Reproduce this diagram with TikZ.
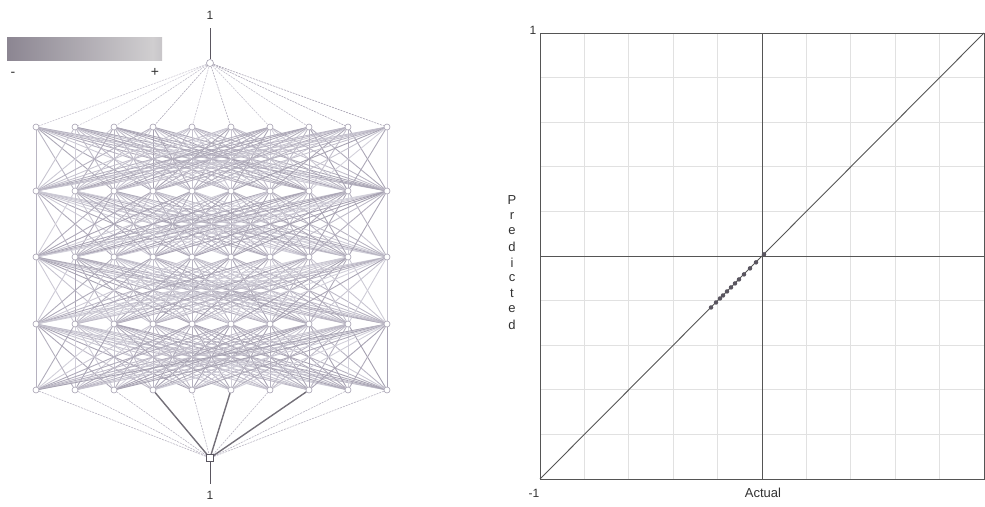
\documentclass[tikz,border=0pt]{standalone}
\usepackage{fontspec}
\setmainfont{Liberation Sans}
\usetikzlibrary{backgrounds}
\definecolor{netA}{RGB}{165,160,176}
\definecolor{netB}{RGB}{212,210,220}
\definecolor{netDark}{RGB}{90,86,96}
\definecolor{gridc}{RGB}{225,225,225}
\definecolor{axisc}{RGB}{85,85,85}
\definecolor{txt}{RGB}{50,50,50}
\definecolor{barA}{RGB}{92,84,98}
\definecolor{barB}{RGB}{140,134,146}
\definecolor{barC}{RGB}{208,206,208}
\definecolor{barD}{RGB}{128,124,134}
\pgfdeclarehorizontalshading{cbar}{100bp}{color(0bp)=(barA); color(25bp)=(barB); color(72bp)=(barC); color(100bp)=(barD)}
\tikzset{
  nd/.style={circle,draw=netA,fill=white,inner sep=0pt,minimum size=6pt,line width=0.6pt},
  outnd/.style={rectangle,draw=netDark,fill=white,inner sep=0pt,minimum size=7pt,line width=0.7pt},
  edge/.style={line width=0.9pt},
  gridl/.style={draw=gridc,line width=0.7pt},
  axisl/.style={draw=axisc,line width=0.8pt},
  lbl/.style={text=txt,font=\fontsize{12}{12}\selectfont,inner sep=0pt},
  dot/.style={circle,fill=netDark,inner sep=0pt,minimum size=4.5pt}
}
\begin{document}
\begin{tikzpicture}[x=1pt,y=-1pt]
\useasboundingbox (0,0) rectangle (985,506);
\pgfmathsetseed{7}
% ---------- colour bar ----------
\node[inner sep=0pt,minimum width=155pt,minimum height=23pt,shading=cbar,anchor=north west] (bar) at (7,37) {};
\node[lbl,font=\fontsize{14}{14}\selectfont] (minus) at (13,74) {-};
\node[lbl,font=\fontsize{14}{14}\selectfont] (plus) at (155,72) {+};
% ---------- network nodes ----------
\node[nd,minimum size=7pt] (top) at (210,63) {};
\coordinate (topend) at (210,28);
\node[lbl] (toplab) at (210,15) {1};
\foreach \k/\y in {1/127,2/191,3/257,4/324,5/390}{
  \foreach \i in {0,...,9}{
    \pgfmathsetmacro{\xx}{36+39*\i}
    \node[nd] (n\k-\i) at (\xx,\y) {};
  }
}
\node[outnd] (bot) at (210,458) {};
\coordinate (botend) at (210,484);
\node[lbl] (botlab) at (210,495) {1};
\begin{pgfonlayer}{background}
  \draw[axisl,draw=netDark,line width=1pt] (top) -- (topend);
  \draw[axisl,draw=netDark,line width=1pt] (bot) -- (botend);
  \foreach \i in {0,...,9}{
    \pgfmathrandominteger{\r}{0}{100}
    \draw[line width=0.6pt,draw=netA!\r!netB,dash pattern=on 2pt off 1pt] (top) -- (n1-\i);
  }
  \foreach \k/\kk in {1/2,2/3,3/4,4/5}{
    \foreach \i in {0,...,9}{
      \foreach \j in {0,...,9}{
        \pgfmathrandominteger{\r}{0}{100}
        \draw[edge,draw=netA!\r!netB] (n\k-\i) -- (n\kk-\j);
      }
    }
  }
  \foreach \i in {0,1,2,4,6,8,9}{
    \draw[line width=0.6pt,draw=netA!60!netB,dash pattern=on 2pt off 1pt] (n5-\i) -- (bot);
  }
  \foreach \i in {3,5,7}{
    \draw[draw=netDark!85!white,line width=1.4pt] (n5-\i) -- (bot);
  }
\end{pgfonlayer}
% ---------- scatter plot ----------
\coordinate (pl) at (540,479);
\coordinate (pr) at (984,33);
\foreach \k in {1,...,9}{
  \pgfmathsetmacro{\gx}{540+44.4*\k}
  \pgfmathsetmacro{\gy}{33+44.6*\k}
  \draw[gridl] (\gx,33) -- (\gx,479);
  \draw[gridl] (540,\gy) -- (984,\gy);
}
\draw[axisl] (762,33) -- (762,479);
\draw[axisl] (540,256) -- (984,256);
\draw[axisl,line width=1pt] (pl) rectangle (pr);
\draw[axisl,line width=0.9pt] (pl) -- (pr);
\foreach \x in {711,716,720,723,727,731,735,739,744,750,756,764}{
  \pgfmathsetmacro{\yy}{479-(\x-540)*1.003}
  \node[dot] at (\x,\yy) {};
}
\node[lbl] (ytop) at (533,30) {1};
\node[lbl] (xmin) at (534,493) {-1};
\node[lbl,font=\fontsize{13}{13}\selectfont] (xlab) at (763,493) {Actual};
\foreach \c [count=\n from 0] in {P,r,e,d,i,c,t,e,d}{
  \pgfmathsetmacro{\yy}{200+15.6*\n}
  \node[lbl,font=\fontsize{13}{13}\selectfont] at (512,\yy) {\c};
}
\end{tikzpicture}
\end{document}
